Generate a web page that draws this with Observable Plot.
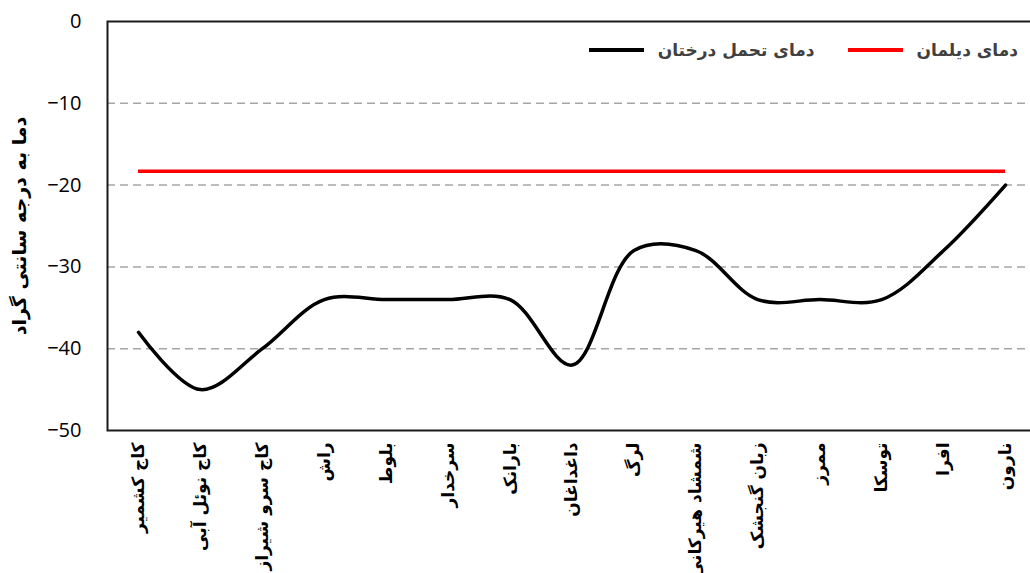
<!DOCTYPE html>
<html>
<head>
<meta charset="utf-8">
<script src="https://cdn.jsdelivr.net/npm/d3@7"></script>
<script src="https://cdn.jsdelivr.net/npm/@observablehq/plot@0.6"></script>
<style>
  html, body { margin: 0; padding: 0; background: #fff; }
  #wrap { position: relative; width: 1030px; height: 573px; overflow: hidden; }
  #legend {
    position: absolute; top: 39px; right: 12px;
    display: flex; flex-direction: row; align-items: center; gap: 33px;
    direction: rtl; font-family: "DejaVu Sans", "Noto Sans", sans-serif;
    font-weight: bold; font-size: 17px; color: #404040; line-height: 22px;
  }
  .item { display: flex; align-items: center; gap: 14px; }
  .sw { width: 55px; height: 3.5px; }
</style>
</head>
<body>
<div id="wrap">
  <div id="chart"></div>
  <div id="legend"></div>
</div>
<script>
// Categories (tree species)
const species = [
  "کاج کشمیر", "کاج نوئل آبی", "کاج سرو شیراز", "راش", "بلوط", "سرخدار",
  "بارانک", "داغداغان", "لرگ", "شمشاد هیرکانی", "زبان گنجشک", "ممرز",
  "توسکا", "افرا", "نارون"
];
// Cold tolerance temperature of trees (°C)
const toleranceTemp = [-38, -45, -40, -34, -34, -34, -34, -42, -28, -28, -34, -34, -34, -28, -20];
// Dailaman minimum temperature (°C)
const dailamanTemp = -18.3;
// Y tick values
const yTicks = [0, -10, -20, -30, -40, -50];
const gridTicks = [-10, -20, -30, -40];

const seriesNames = ["دمای دیلمان", "دمای تحمل درختان"];
const seriesColors = ["#ff0000", "#000000"];
const yTitle = "دما به درجه سانتی گراد";

const rows = species.map((s, i) => ({species: s, temp: toleranceTemp[i]}));

const chart = Plot.plot({
  width: 1030,
  height: 573,
  marginTop: 21,
  marginBottom: 143,
  marginLeft: 107,
  marginRight: -6,
  style: {fontFamily: "'Open Sans', 'DejaVu Sans', sans-serif", background: "#fff", color: "#000"},
  x: {type: "point", domain: species, padding: 0.5, round: false},
  y: {domain: [-50, 0]},
  marks: [
    Plot.gridY(gridTicks, {stroke: "#a6a6a6", strokeOpacity: 1, strokeWidth: 1.5, strokeDasharray: "8,5"}),
    Plot.frame({stroke: "#1a1a1a", strokeWidth: 2}),
    Plot.axisY({ticks: yTicks, tickSize: 0, tickPadding: 26, fontSize: 20, label: null}),
    Plot.axisX({tickSize: 0, tickRotate: -90, tickPadding: 12, fontSize: 17, fontWeight: "bold",
      fontFamily: "'DejaVu Sans', sans-serif", label: null}),
    Plot.text([yTitle], {frameAnchor: "left", textAnchor: "middle", dx: -88, rotate: -90, fontSize: 19,
      fontWeight: "bold", fontFamily: "'DejaVu Sans', sans-serif", fill: "#000"}),
    Plot.ruleY([dailamanTemp], {x1: () => species[0], x2: () => species[species.length - 1],
      stroke: seriesColors[0], strokeWidth: 3.5}),
    Plot.line(rows, {x: "species", y: "temp", curve: "catmull-rom", stroke: seriesColors[1], strokeWidth: 3.5})
  ]
});
document.getElementById("chart").appendChild(chart);

const legend = document.getElementById("legend");
seriesNames.forEach((name, i) => {
  const item = document.createElement("div");
  item.className = "item";
  const t = document.createElement("span");
  t.textContent = name;
  const sw = document.createElement("span");
  sw.className = "sw";
  sw.style.background = seriesColors[i];
  item.appendChild(t);
  item.appendChild(sw);
  legend.appendChild(item);
});
</script>
</body>
</html>
